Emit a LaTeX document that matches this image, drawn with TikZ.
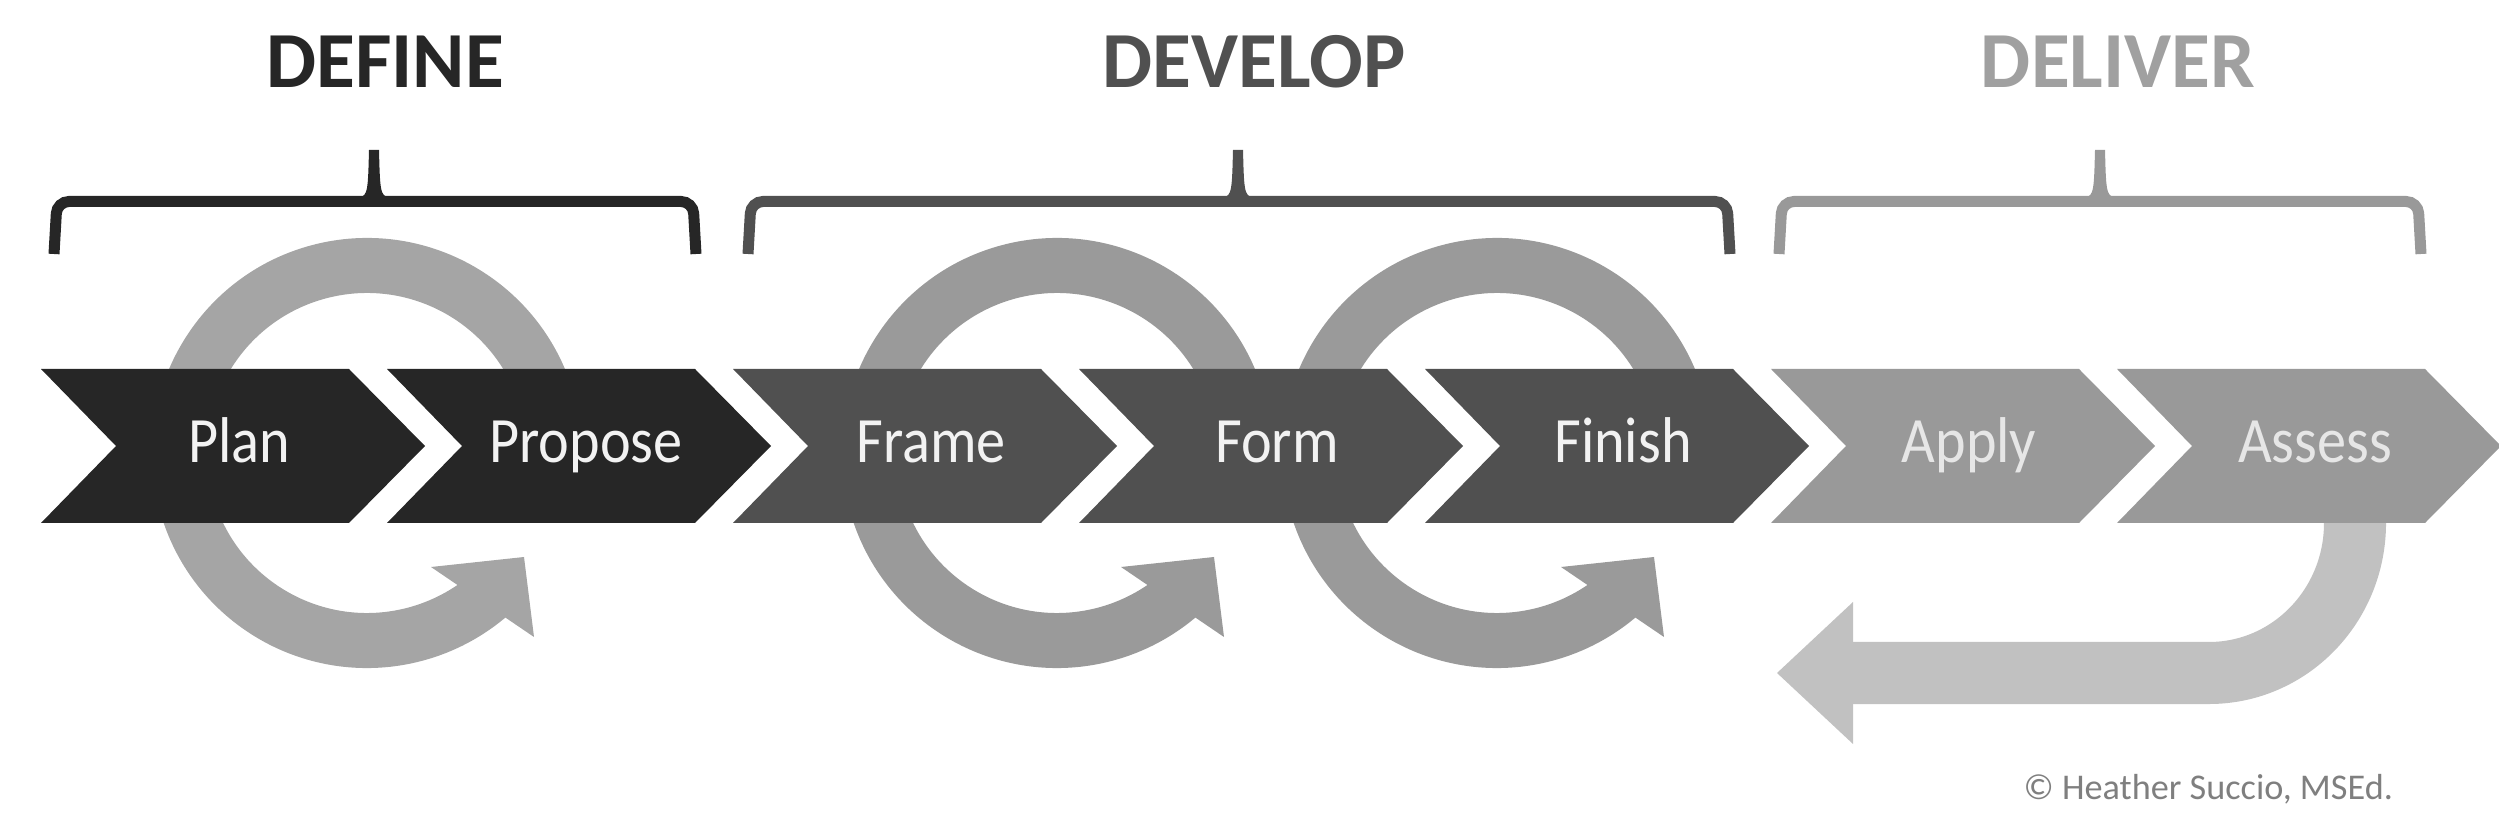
\documentclass[tikz,border=0pt]{standalone}
\usepackage{fontspec}
\setmainfont{Carlito}
\definecolor{cDef}{HTML}{262626}
\definecolor{cDev}{HTML}{505050}
\definecolor{cDel}{HTML}{999999}
\definecolor{cDelHdr}{HTML}{A0A0A0}
\definecolor{cRingA}{HTML}{A5A5A5}
\definecolor{cRingB}{HTML}{9A9A9A}
\definecolor{cRet}{HTML}{C1C1C1}
\definecolor{cTxt}{HTML}{F2F2F2}
\definecolor{cTxtL}{HTML}{E6E6E6}
\definecolor{cCopy}{HTML}{7F7F7F}
\newcommand\drawbrace[4]{%
  \draw[line width=0.11cm, #1, rounded corners=3.4pt] (#2,576) -- (#2+3,628.5) -- (#3-3,628.5) -- (#3,576);
  \fill[#1] (#4-15,633) .. controls (#4-6,633) and (#4-6,642) .. (#4-5,680) -- (#4+5,680) .. controls (#4+6,642) and (#4+6,633) .. (#4+15,633) -- (#4+15,626) -- (#4-15,626) -- cycle;}
\newcommand\chevlabel[1]{\scalebox{0.9}[1]{#1}}
\tikzset{
  pics/chevron/.style={code={\fill[#1] (0,77) -- (308,77) -- (384,0) -- (308,-77) -- (0,-77) -- (75,0) -- cycle;}},
  pics/ringarrow/.style={code={
    \draw[line width=0.55cm, #1] (15:187.5) arc[start angle=15, end angle=311, radius=187.5];
    \fill[#1] (64,-114) -- (157,-104) -- (167,-184) -- cycle;}},
  lab/.style={anchor=base, font=\fontsize{18.4}{22}\selectfont},
  hdr/.style={anchor=base, font=\fontsize{22.6}{27}\selectfont\bfseries},
}
\begin{document}
\begin{tikzpicture}[x=0.01cm,y=0.01cm]
\useasboundingbox (0,0) rectangle (2499,830);
% loops behind the chevrons
\pic at (367,377) {ringarrow=cRingA};
\pic at (1057,377) {ringarrow=cRingB};
\pic at (1497,377) {ringarrow=cRingB};
% return arrow
\draw[line width=0.62cm, cRet] (2355,420) -- (2355,307) arc[start angle=0, end angle=-90, x radius=146, y radius=150] -- (1850,157);
\fill[cRet] (1777,157) -- (1853,228) -- (1853,86) -- cycle;
% chevrons
\pic at (41,384) {chevron=cDef};
\pic at (387,384) {chevron=cDef};
\pic at (733,384) {chevron=cDev};
\pic at (1079,384) {chevron=cDev};
\pic at (1425,384) {chevron=cDev};
\pic at (1771,384) {chevron=cDel};
\pic at (2117,384) {chevron=cDel};
% labels
\node[lab, text=cTxt] (plan) at (239,367) {\chevlabel{Plan}};
\node[lab, text=cTxt] (propose) at (586,367) {\chevlabel{Propose}};
\node[lab, text=cTxt] (frame) at (931,367) {\chevlabel{Frame}};
\node[lab, text=cTxt] (form) at (1277,367) {\chevlabel{Form}};
\node[lab, text=cTxt] (finish) at (1623,367) {\chevlabel{Finish}};
\node[lab, text=cTxtL] (apply) at (1969,367) {\chevlabel{Apply}};
\node[lab, text=cTxtL] (assess) at (2315,367) {\chevlabel{Assess}};
% braces
\drawbrace{cDef}{54}{696}{374}
\drawbrace{cDev}{748}{1730}{1238}
\drawbrace{cDel}{1779}{2421}{2100}
% headers
\node[hdr, text=cDef] (define) at (385,742) {DEFINE};
\node[hdr, text=cDev] (develop) at (1254,742) {DEVELOP};
\node[hdr, text=cDelHdr] (deliver) at (2118,742) {DELIVER};
% copyright
\node[anchor=base west, inner sep=0pt, font=\fontsize{10.3}{12}\selectfont, text=cCopy] (copy) at (2023,31) {© Heather Succio, MSEd.};
\end{tikzpicture}
\end{document}
